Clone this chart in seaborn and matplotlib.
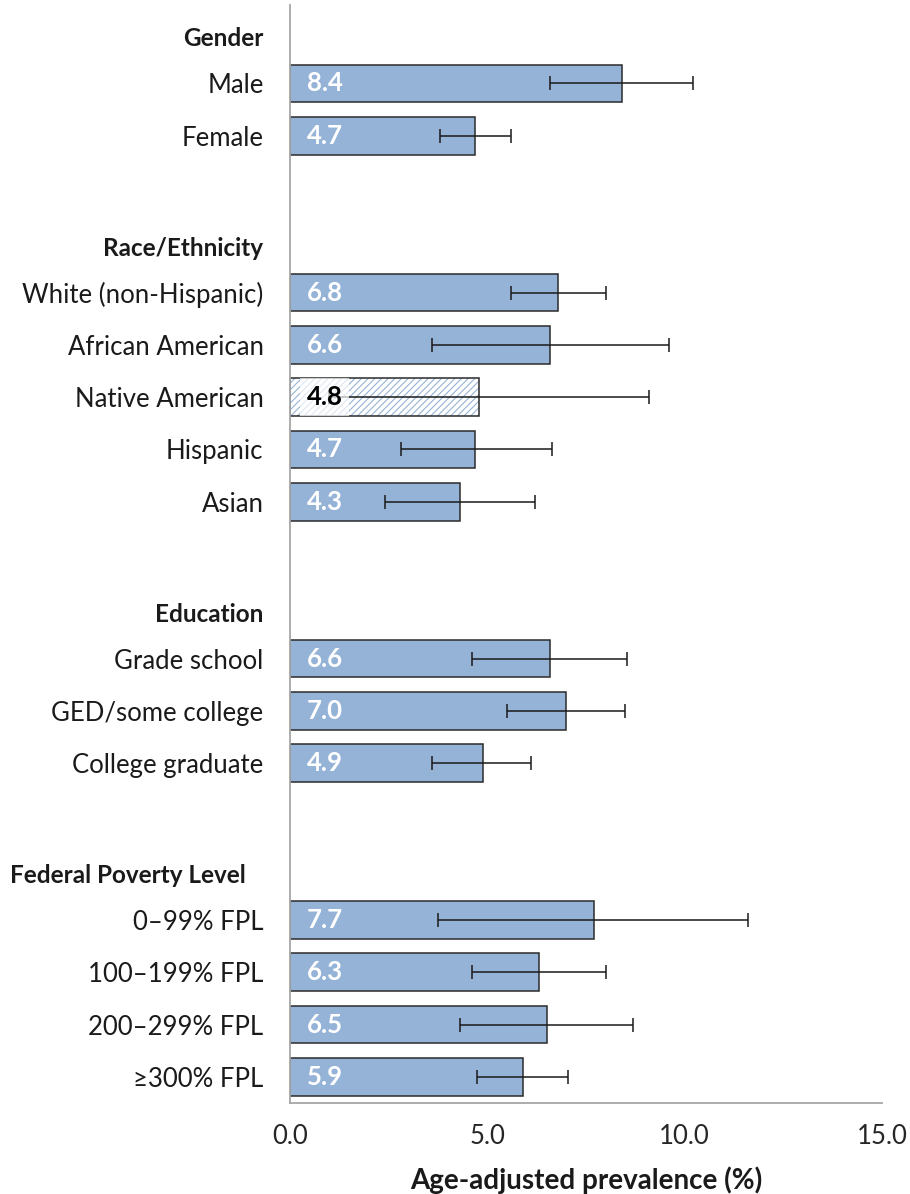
import numpy as np
import pandas as pd
import seaborn as sns
import matplotlib.pyplot as plt
from matplotlib.patches import Rectangle

# ---- data -------------------------------------------------------------
group_names = ["Gender", "Race/Ethnicity", "Education", "Federal Poverty Level"]

gender_labels = ["Male", "Female"]
gender_values = [8.4, 4.7]
gender_low = [6.6, 3.8]
gender_high = [10.2, 5.6]

race_labels = ["White (non-Hispanic)", "African American", "Native American",
               "Hispanic", "Asian"]
race_values = [6.8, 6.6, 4.8, 4.7, 4.3]
race_low = [5.6, 3.6, 1.0, 2.8, 2.4]
race_high = [8.0, 9.6, 9.1, 6.65, 6.2]

edu_labels = ["Grade school", "GED/some college", "College graduate"]
edu_values = [6.6, 7.0, 4.9]
edu_low = [4.6, 5.5, 3.6]
edu_high = [8.55, 8.5, 6.1]

fpl_labels = ["0\u201399% FPL", "100\u2013199% FPL", "200\u2013299% FPL", "\u2265300% FPL"]
fpl_values = [7.7, 6.3, 6.5, 5.9]
fpl_low = [3.75, 4.6, 4.3, 4.75]
fpl_high = [11.6, 8.0, 8.7, 7.05]

# estimate flagged as statistically unstable (drawn hatched)
unstable = ["Native American"]

x_ticks = [0, 5, 10, 15]
x_tick_labels = ["0.0", "5.0", "10.0", "15.0"]
x_title = "Age-adjusted prevalence (%)"

# ---- layout of rows: header, items, spacer ----------------------------
sections = [
    (gender_labels, gender_values, gender_low, gender_high),
    (race_labels, race_values, race_low, race_high),
    (edu_labels, edu_values, edu_low, edu_high),
    (fpl_labels, fpl_values, fpl_low, fpl_high),
]

order, headers, records = [], [], []
for gi, (labels, vals, lo, hi) in enumerate(sections):
    hid = f"_hdr{gi}"
    headers.append((len(order), group_names[gi]))
    order.append(hid)
    for lab, v, l, h in zip(labels, vals, lo, hi):
        records.append(dict(row=lab, value=v, low=l, high=h, pos=len(order)))
        order.append(lab)
    if gi < len(sections) - 1:
        order.append(f"_gap{gi}")

df = pd.DataFrame(records)

# ---- style ------------------------------------------------------------
sns.set_style("white")
plt.rcParams["font.family"] = ["Lato", "DejaVu Sans"]
plt.rcParams["hatch.linewidth"] = 0.8

BAR = "#95B3D7"
EDGE = "#2b2b2b"
AXIS = "#a6a6a6"
TXT = "#1a1a1a"
FS = 18.5

fig = plt.figure(figsize=(9.10, 11.94), dpi=100)
ax = fig.add_axes([290 / 910, 1 - 1103 / 1194, 592 / 910, 1098 / 1194])

sns.barplot(data=df, x="value", y="row", order=order, color=BAR,
            saturation=1, edgecolor=EDGE, linewidth=1.1, width=0.72,
            errorbar=None, orient="h", ax=ax)

# hatched bar for the unstable estimate
unstable_pos = set(df.loc[df["row"].isin(unstable), "pos"])
for p in ax.patches:
    yc = int(round(p.get_y() + p.get_height() / 2))
    if yc in unstable_pos:
        p.set_facecolor("white")
        p.set_edgecolor(BAR)
        p.set_hatch("/////")
        p.set_linewidth(0)
        ax.add_patch(Rectangle((p.get_x(), p.get_y()), p.get_width(), p.get_height(),
                               fill=False, edgecolor=EDGE, linewidth=1.1, zorder=p.get_zorder() + 0.1))

# confidence intervals
ax.errorbar(df["value"], df["pos"],
            xerr=[df["value"] - df["low"], df["high"] - df["value"]],
            fmt="none", ecolor=TXT, elinewidth=1.1, capsize=5, capthick=1.1, zorder=4)

# value labels inside the bars
for _, r in df.iterrows():
    if r["row"] in unstable:
        ax.text(0.42, r["pos"], f"{r['value']:.1f}", ha="left", va="center",
                fontsize=FS, fontweight="bold", color="black", zorder=6,
                bbox=dict(boxstyle="square,pad=0.27", fc="white", ec="none", alpha=0.7))
    else:
        ax.text(0.42, r["pos"], f"{r['value']:.1f}", ha="left", va="center",
                fontsize=FS, fontweight="bold", color="white", zorder=6)

# axes
ax.set_xlim(0, 15)
ax.set_ylim(len(order) - 0.5, -0.5)
ax.set_xticks(x_ticks)
ax.set_xticklabels(x_tick_labels, fontsize=FS, color="#262626")
ax.set_yticks(df["pos"])
ax.set_yticklabels(df["row"], fontsize=FS, color=TXT)
ax.tick_params(axis="y", length=0, pad=19)
ax.tick_params(axis="x", length=5, width=1, color=AXIS, direction="out", pad=10)
ax.set_ylabel("")
ax.set_xlabel(x_title, fontsize=20, fontweight="bold", color=TXT, labelpad=13)

for s in ["top", "right"]:
    ax.spines[s].set_visible(False)
for s in ["left", "bottom"]:
    ax.spines[s].set_color(AXIS)
    ax.spines[s].set_linewidth(1.3)

# group headers
ytr = ax.get_yaxis_transform()
HFS = 17.5
for pos, name in headers:
    if len(name) > 16:
        ax.text(-280 / 592, pos + 0.15, name, transform=ytr,
                ha="left", va="center", fontsize=HFS, fontweight="bold", color=TXT)
    else:
        ax.text(-27 / 592, pos + 0.15, name, transform=ytr, ha="right", va="center",
                fontsize=HFS, fontweight="bold", color=TXT)

fig.savefig("out.png", dpi=100, facecolor="white")
